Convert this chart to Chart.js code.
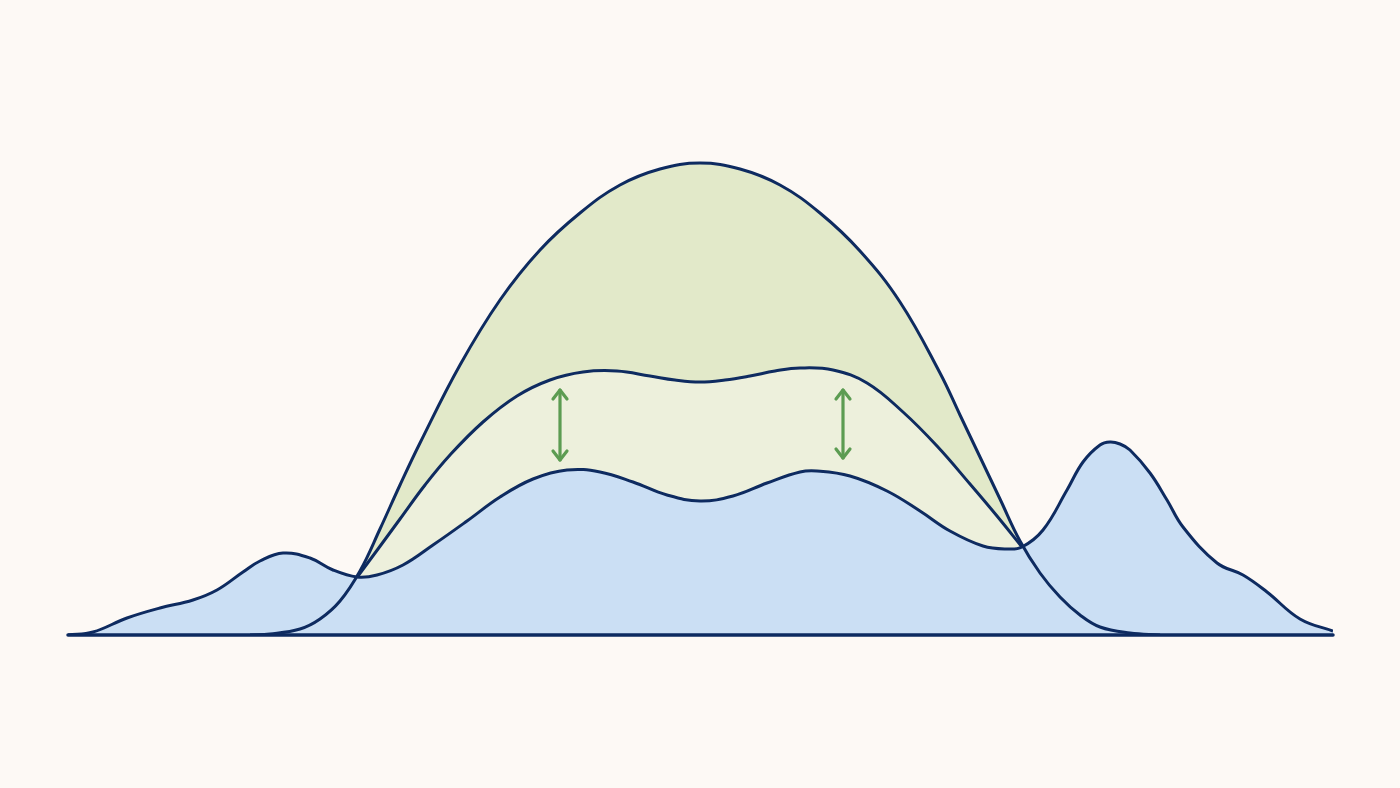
<!DOCTYPE html>
<html>
<head>
<meta charset="utf-8">
<script src="https://cdn.jsdelivr.net/npm/chart.js@4.4.1/dist/chart.umd.min.js"></script>
<style>
  html, body { margin: 0; padding: 0; background: #fdf9f5; }
  canvas { display: block; }
</style>
</head>
<body>
<canvas id="c" width="1400" height="788"></canvas>
<script>
// Wide distribution (big bell)
const bellX = [182, 202, 232, 252, 272, 292, 312, 332, 352, 392, 432, 472, 512, 552, 592, 632, 672, 712, 752, 792, 832, 872, 892, 912, 932, 952, 972, 992, 1012, 1032, 1062, 1092];
const bellY = [0, 1, 6, 16, 34, 64, 106, 150, 192, 270, 335, 385, 422, 450, 466, 472, 466, 450, 422, 384, 333, 262, 220, 178, 136, 94, 62, 38, 20, 8, 2, 0];

// Middle (shifted) curve
const midX = [290, 310, 332, 357, 382, 415, 449, 482, 515, 549, 582, 607, 632, 657, 682, 707, 732, 765, 799, 835, 869, 902, 929, 954];
const midY = [59, 86, 116, 150, 180, 213, 239, 255, 263, 264, 259, 255, 253, 255, 259, 264, 267, 265, 252, 223, 189, 151, 119, 88];

// Lower multimodal distribution (blue)
const lowX = [0, 25, 59, 92, 125, 149, 175, 192, 215, 242, 265, 289, 309, 335, 365, 399, 432, 465, 499, 532, 565, 599, 632, 665, 699, 732, 749, 782, 819, 852, 882, 915, 939, 954, 975, 999, 1015, 1032, 1042, 1052, 1062, 1082, 1099, 1115, 1149, 1175, 1199, 1232, 1265];
const lowY = [0, 3, 17, 27, 35, 45, 63, 74, 82, 77, 65, 58, 60, 70, 90, 114, 138, 156, 165, 163, 153, 140, 134, 139, 152, 163, 164, 159, 144, 124, 104, 89, 86, 88, 105, 145, 173, 190, 193, 191, 185, 162, 135, 108, 72, 60, 43, 16, 4];

// Baseline extent
const baseX = [0, 1265];
const baseY = [0, 0];

// Double-headed arrows (x, from, to)
const arrowX = [492, 775];
const arrowFrom = [175, 177];
const arrowTo = [245, 245];

const toPts = (xs, ys) => xs.map((x, i) => ({ x: x, y: ys[i] }));

const NAVY = '#0e2b60';

const arrowPlugin = {
  id: 'arrows',
  afterDatasetsDraw(chart) {
    const { ctx, scales } = chart;
    ctx.save();
    ctx.strokeStyle = '#5c9c52';
    ctx.lineWidth = 3.2;
    ctx.lineCap = 'round';
    ctx.lineJoin = 'round';
    arrowX.forEach((xv, i) => {
      const x = scales.x.getPixelForValue(xv);
      const y1 = scales.y.getPixelForValue(arrowFrom[i]);
      const y2 = scales.y.getPixelForValue(arrowTo[i]);
      ctx.beginPath();
      ctx.moveTo(x, y1);
      ctx.lineTo(x, y2);
      ctx.stroke();
      const h = 9, w = 7;
      ctx.beginPath();
      ctx.moveTo(x - w, y2 + h);
      ctx.lineTo(x, y2);
      ctx.lineTo(x + w, y2 + h);
      ctx.stroke();
      ctx.beginPath();
      ctx.moveTo(x - w, y1 - h);
      ctx.lineTo(x, y1);
      ctx.lineTo(x + w, y1 - h);
      ctx.stroke();
    });
    ctx.restore();
  }
};

const bgPlugin = {
  id: 'bg',
  beforeDraw(chart) {
    const { ctx, width, height } = chart;
    ctx.save();
    ctx.fillStyle = '#fdf9f5';
    ctx.fillRect(0, 0, width, height);
    ctx.restore();
  }
};

const curve = (label, data, fillColor) => ({
  label: label,
  data: data,
  borderColor: NAVY,
  borderWidth: 3,
  backgroundColor: fillColor,
  fill: 'origin',
  pointRadius: 0,
  tension: 0.4
});

new Chart(document.getElementById('c'), {
  type: 'line',
  data: {
    datasets: [
      curve('lower', toPts(lowX, lowY), '#cbdff4'),
      curve('middle', toPts(midX, midY), '#edf0dc'),
      curve('bell', toPts(bellX, bellY), '#e2e9c9'),
      {
        label: 'baseline',
        data: toPts(baseX, baseY),
        borderColor: NAVY,
        borderWidth: 3.5,
        fill: false,
        pointRadius: 0,
        borderCapStyle: 'round',
        clip: false
      }
    ]
  },
  options: {
    responsive: false,
    animation: false,
    layout: { padding: { left: 68, right: 67, top: 0, bottom: 153 } },
    scales: {
      x: { type: 'linear', min: 0, max: 1265, display: false },
      y: { type: 'linear', min: 0, max: 635, display: false }
    },
    plugins: {
      legend: { display: false },
      tooltip: { enabled: false },
      filler: { drawTime: 'beforeDatasetsDraw' }
    }
  },
  plugins: [bgPlugin, arrowPlugin]
});
</script>
</body>
</html>
